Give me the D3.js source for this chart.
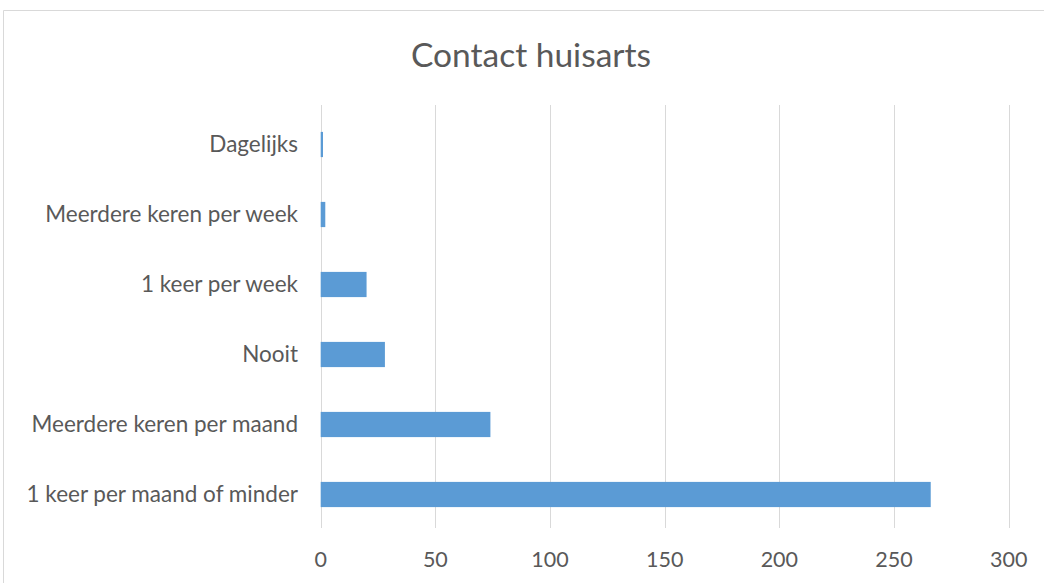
<!DOCTYPE html>
<html><head><meta charset="utf-8">
<script src="https://cdn.jsdelivr.net/npm/d3@7"></script>
<style>body{margin:0;background:#fff;} svg{display:block;}</style>
</head><body>
<svg id="c" width="1044" height="583"></svg>
<script>
const title = "Contact huisarts";
const categories = ["Dagelijks","Meerdere keren per week","1 keer per week","Nooit","Meerdere keren per maand","1 keer per maand of minder"];
const values = [1, 2, 20, 28, 74, 266];
const ticks = [0, 50, 100, 150, 200, 250, 300];

const svg = d3.select("#c");
const font = "Lato, 'Open Sans', sans-serif";
// chart border
svg.append("path").attr("d","M3.5,583 V10.5 H1044").attr("fill","none").attr("stroke","#d9d9d9").attr("stroke-width",1);

const x = d3.scaleLinear().domain([0,300]).range([320.7,1008.7]);
const y = d3.scaleBand().domain(categories).range([109.5,529.5]).paddingInner(0.64).paddingOuter(0.32);

svg.append("text").attr("x",531).attr("y",67).attr("text-anchor","middle")
  .attr("font-family",font).attr("font-size",33.5).attr("fill","#595959").text(title);

const g = svg.append("g");
g.selectAll("line.grid").data(ticks).join("line").attr("class","grid")
  .attr("x1",d=>Math.round(x(d))+0.5).attr("x2",d=>Math.round(x(d))+0.5)
  .attr("y1",105).attr("y2",528).attr("stroke","#d9d9d9").attr("stroke-width",1);

g.selectAll("rect").data(values).join("rect")
  .attr("x",x(0)).attr("y",(d,i)=>y(categories[i])).attr("width",d=>x(d)-x(0))
  .attr("height",y.bandwidth()).attr("fill","#5b9bd5");

g.selectAll("text.cat").data(categories).join("text").attr("class","cat")
  .attr("x",298).attr("y",d=>y(d)+y.bandwidth()/2).attr("dy","0.35em").attr("text-anchor","end")
  .attr("font-family",font).attr("font-size",22.5).attr("fill","#595959").text(d=>d);

g.selectAll("text.tick").data(ticks).join("text").attr("class","tick")
  .attr("x",d=>x(d)).attr("y",567).attr("text-anchor","middle")
  .attr("font-family",font).attr("font-size",21.5).attr("fill","#595959").text(d=>d);
</script>
</body></html>
